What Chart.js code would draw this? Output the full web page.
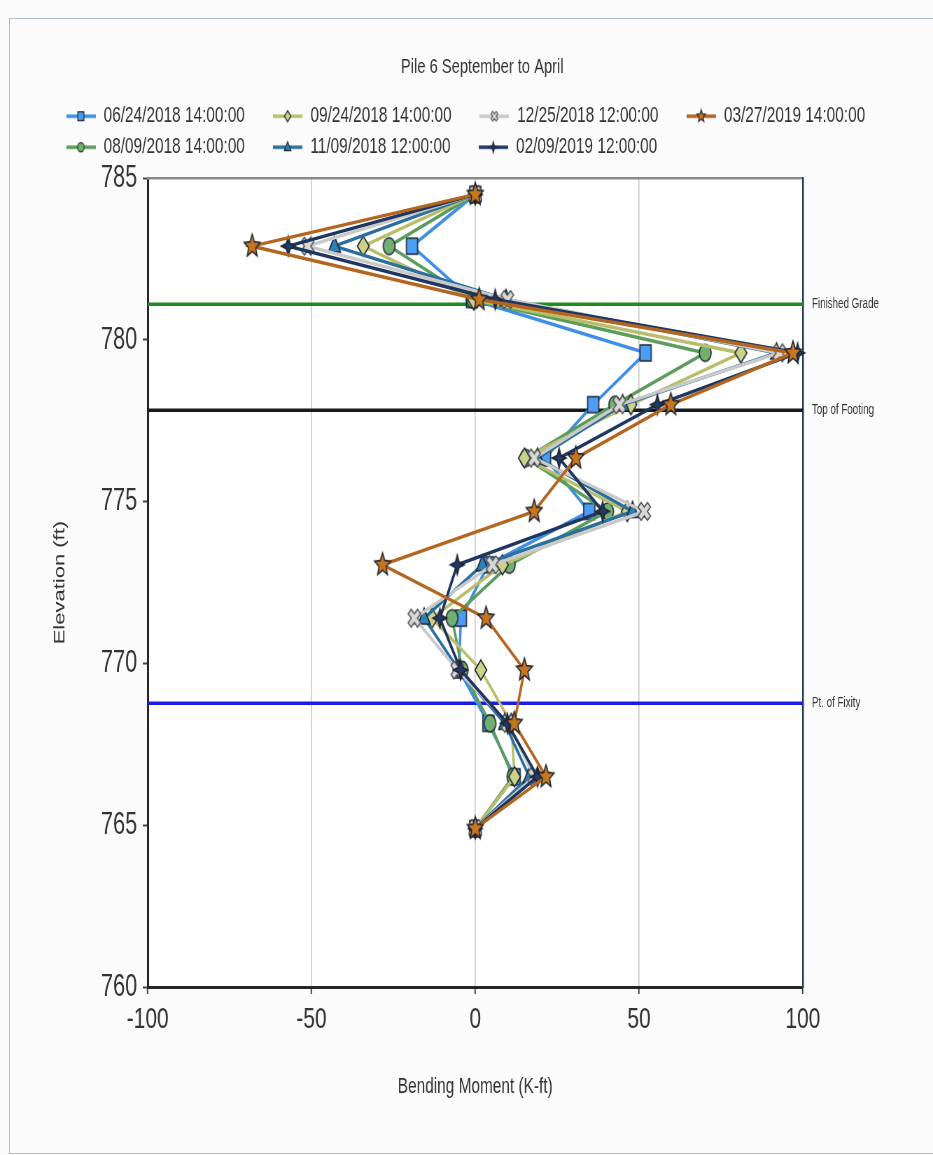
<!DOCTYPE html>
<html>
<head>
<meta charset="utf-8">
<script src="https://cdn.jsdelivr.net/npm/chart.js@4.4.0/dist/chart.umd.min.js"></script>
<style>
  html, body { margin: 0; padding: 0; background: #fbfbfb; }
  #frame { position: absolute; left: 9px; top: 18px; width: 1000px; height: 1134px; border: 1px solid #b4bccb; }
</style>
</head>
<body>
<div id="frame"></div>
<!-- drawn 1333 wide and shown 933 wide: the reference is a horizontally squeezed screenshot -->
<canvas id="c" width="1333" height="1155" style="position:absolute;left:0;top:0;width:933px;height:1155px"></canvas>
<script>
// elevation of each gauge (ft)
const elevations = [784.5, 782.9, 781.25, 779.6, 778.0, 776.35, 774.7, 773.05, 771.4, 769.8, 768.15, 766.5, 764.9];

const seriesLabels = ['06/24/2018 14:00:00', '08/09/2018 14:00:00', '09/24/2018 14:00:00',
  '11/09/2018 12:00:00', '12/25/2018 12:00:00', '02/09/2019 12:00:00', '03/27/2019 14:00:00'];

// bending moment (K-ft) per reading, same order as elevations
const moment0624 = [0, -19.3, -1, 52, 36, 21.3, 34.8, 4, -4.4, -5, 4, 12, 0];
const moment0809 = [0, -26.3, -0.9, 70.2, 42.6, 15.5, 40.4, 10.4, -7.1, -4, 4.5, 11.5, 0];
const moment0924 = [0, -34.2, -0.5, 81.1, 47.5, 15, 46.4, 8.3, -13.2, 1.7, 11, 12, 0];
const moment1109 = [0, -43, 9.4, 92, 45, 19, 48, 2.2, -15.6, -5, 9, 16.5, 0];
const moment1225 = [0, -51.2, 9.8, 92.8, 44, 18, 51.6, 5.3, -18.6, -5.5, 10, 18, 0];
const moment0209 = [0, -57.1, 6.1, 98.4, 55.6, 25.6, 38.9, -5.5, -10.8, -4.5, 9.8, 19, 0];
const moment0327 = [0, -68.1, 1.2, 97, 59.7, 30.7, 18, -28.3, 3.3, 15, 11.9, 21.6, 0];
const moments = [moment0624, moment0809, moment0924, moment1109, moment1225, moment0209, moment0327];

// reference elevations drawn as horizontal lines
const refLevels = [781.1, 777.83, 768.77];
const refNames = ['Finished Grade', 'Top of Footing', 'Pt. of Fixity'];

const lineColors = ['#3f8fe6', '#5c9c5c', '#b9be6c', '#2b6f9f', '#c9c9c9', '#1f3661', '#b4651f'];
const fillColors = ['#4d9cf6', '#72b072', '#cdd289', '#2f80b7', '#d8d8d8', '#223a68', '#c5761f'];
const markerKinds = ['rect', 'circle', 'diamond', 'triangle', 'cross', 'star4', 'star5'];
const markerSizes = [8, 8.5, 10, 10, 9.5, 10, 12];
const refColors = ['#1f8c1f', '#1a1a1a', '#1c1ce8'];
const legendOrder = [0, 2, 4, 6, 1, 3, 5];

function drawMarker(ctx, kind, x, y, r) {
  ctx.beginPath();
  if (kind === 'rect') {
    ctx.rect(x - r, y - r, 2 * r, 2 * r);
  } else if (kind === 'circle') {
    ctx.arc(x, y, r, 0, Math.PI * 2);
  } else if (kind === 'diamond') {
    ctx.moveTo(x, y - r); ctx.lineTo(x + r * 0.85, y); ctx.lineTo(x, y + r); ctx.lineTo(x - r * 0.85, y);
    ctx.closePath();
  } else if (kind === 'triangle') {
    ctx.moveTo(x, y - r); ctx.lineTo(x + r * 0.87, y + r * 0.6); ctx.lineTo(x - r * 0.87, y + r * 0.6);
    ctx.closePath();
  } else if (kind === 'cross') {
    const a = r * 0.33, c = Math.SQRT1_2;
    const pts = [[-a, -r], [a, -r], [a, -a], [r, -a], [r, a], [a, a], [a, r], [-a, r], [-a, a], [-r, a], [-r, -a], [-a, -a]];
    pts.forEach(([px, py], i) => {
      const rx = x + (px - py) * c, ry = y + (px + py) * c;
      if (i) ctx.lineTo(rx, ry); else ctx.moveTo(rx, ry);
    });
    ctx.closePath();
  } else {
    const n = kind === 'star4' ? 4 : 5;
    const inner = kind === 'star4' ? 0.38 : 0.45;
    for (let i = 0; i < 2 * n; i++) {
      const ang = -Math.PI / 2 + i * Math.PI / n;
      const rr = i % 2 ? r * inner : r;
      const px = x + Math.cos(ang) * rr, py = y + Math.sin(ang) * rr;
      if (i) ctx.lineTo(px, py); else ctx.moveTo(px, py);
    }
    ctx.closePath();
  }
  ctx.fill();
  ctx.stroke();
}

function pointIcon(i) {
  const r = markerSizes[i];
  const s = Math.ceil(2 * r + 6);
  const cv = document.createElement('canvas');
  cv.width = s; cv.height = s;
  const ctx = cv.getContext('2d');
  ctx.fillStyle = fillColors[i];
  ctx.strokeStyle = i === 4 ? '#555' : '#1d2430';
  ctx.lineWidth = 1.6;
  drawMarker(ctx, markerKinds[i], s / 2, s / 2, r);
  return cv;
}

function legendIcon(i) {
  const cv = document.createElement('canvas');
  cv.width = 42; cv.height = 16;
  const ctx = cv.getContext('2d');
  ctx.strokeStyle = lineColors[i];
  ctx.lineWidth = 3.5;
  ctx.beginPath(); ctx.moveTo(0, 8); ctx.lineTo(42, 8); ctx.stroke();
  ctx.fillStyle = fillColors[i];
  ctx.strokeStyle = i === 4 ? '#555' : '#1d2430';
  ctx.lineWidth = 1.2;
  drawMarker(ctx, markerKinds[i], 21, 8, markerSizes[i] * 0.55);
  return cv;
}

const legendIcons = seriesLabels.map((_, i) => legendIcon(i));

const seriesSets = seriesLabels.map((label, i) => ({
  label: label,
  data: elevations.map((elev, k) => ({ x: moments[i][k], y: elev })),
  showLine: true,
  borderColor: lineColors[i],
  backgroundColor: fillColors[i],
  borderWidth: 3.5,
  pointStyle: pointIcon(i),
  pointRadius: 6,
  clip: false,
  order: 10 - i,
  xAxisID: 'x',
  yAxisID: 'y'
}));

const refSets = refLevels.map((lv, i) => ({
  label: refNames[i],
  data: [{ x: -100, y: lv }, { x: 100, y: lv }],
  showLine: true,
  borderColor: refColors[i],
  borderWidth: 3.5,
  pointRadius: 0,
  order: 100,
  xAxisID: 'x',
  yAxisID: 'y'
}));

const plotBg = {
  id: 'plotBg',
  beforeDraw(chart) {
    const { ctx, chartArea: a } = chart;
    ctx.save();
    ctx.fillStyle = '#ffffff';
    ctx.fillRect(a.left, a.top, a.width, a.height);
    ctx.restore();
  }
};

Chart.defaults.font.family = '"Liberation Sans", Arial, sans-serif';
Chart.defaults.color = '#333';

new Chart(document.getElementById('c'), {
  type: 'scatter',
  data: { datasets: seriesSets.concat(refSets) },
  plugins: [plotBg],
  options: {
    responsive: false,
    devicePixelRatio: 1,
    animation: false,
    events: [],
    layout: { padding: { left: 85, right: 40, top: 0, bottom: 0 } },
    plugins: {
      title: {
        display: true,
        text: 'Pile 6 September to April',
        color: '#333',
        font: { size: 21, weight: 'normal' },
        padding: { top: 55, bottom: 16 }
      },
      legend: {
        position: 'top',
        align: 'start',
        labels: {
          usePointStyle: true,
          pointStyleWidth: 43,
          padding: 9,
          color: '#333',
          font: { size: 22 },
          generateLabels: () => legendOrder.map(i => ({
            text: seriesLabels[i] + '     ',
            pointStyle: legendIcons[i],
            datasetIndex: i,
            fillStyle: 'rgba(0,0,0,0)',
            strokeStyle: 'rgba(0,0,0,0)',
            lineWidth: 0,
            hidden: false,
            fontColor: '#333'
          }))
        }
      },
      tooltip: { enabled: false }
    },
    scales: {
      x: {
        type: 'linear', position: 'bottom', min: -100, max: 100,
        ticks: { stepSize: 50, color: '#333', font: { size: 30 }, padding: 8 },
        grid: { color: '#c4c4c4', lineWidth: 1.5, tickLength: 7, tickColor: '#444', tickWidth: 2 },
        border: { color: '#262626', width: 3 },
        title: { display: true, text: 'Bending Moment (K-ft)', color: '#333', font: { size: 22 }, padding: { top: 36, bottom: 55 } },
        afterFit(axis) { axis.height = 168; }
      },
      y: {
        type: 'linear', position: 'left', min: 760, max: 785,
        ticks: { stepSize: 5, color: '#333', font: { size: 31 }, padding: 8 },
        grid: { drawOnChartArea: false, tickLength: 7, tickColor: '#444', tickWidth: 2 },
        border: { color: '#262626', width: 3 },
        title: { display: true, text: 'Elevation (ft)', color: '#333', font: { size: 22 }, padding: { top: -12, bottom: 0 } },
        afterFit(axis) { axis.width = 126; }
      },
      x2: {
        type: 'linear', position: 'top', min: -100, max: 100,
        ticks: { display: false },
        grid: { display: false, drawTicks: false },
        border: { color: '#8a8a8a', width: 2.5 },
        afterFit(axis) { axis.height = 10; }
      },
      y2: {
        type: 'linear', position: 'right', min: 760, max: 785,
        afterBuildTicks(axis) { axis.ticks = refLevels.map(v => ({ value: v })); },
        ticks: { autoSkip: false, color: '#333', font: { size: 14 }, padding: 13, callback: (v, i) => refNames[i] },
        grid: { display: false, drawTicks: false },
        border: { color: '#2c3c5c', width: 2.5 },
        afterFit(axis) { axis.width = 146; }
      }
    }
  }
});
</script>
</body>
</html>
